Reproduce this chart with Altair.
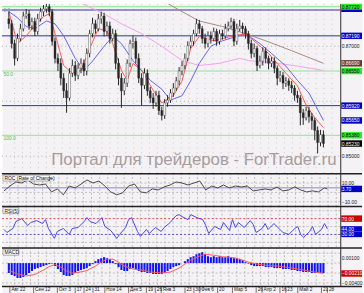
import altair as alt
import numpy as np
import pandas as pd

# ---------------- values ----------------
bar_index = list(range(110))

open_price = [
    0.8750, 0.8741, 0.8705, 0.8678, 0.8714, 0.8732, 0.8755, 0.8759, 0.8737, 0.8745,
    0.8727, 0.8750, 0.8763, 0.8768, 0.8772, 0.8763, 0.8709, 0.8678, 0.8669, 0.8642,
    0.8619, 0.8606, 0.8651, 0.8665, 0.8647, 0.8660, 0.8669, 0.8655, 0.8687, 0.8723,
    0.8741, 0.8732, 0.8750, 0.8755, 0.8727, 0.8737, 0.8714, 0.8723, 0.8669, 0.8642,
    0.8619, 0.8633, 0.8669, 0.8705, 0.8709, 0.8678, 0.8642, 0.8629, 0.8651, 0.8619,
    0.8606, 0.8597, 0.8611, 0.8583, 0.8574, 0.8597, 0.8602, 0.8615, 0.8624, 0.8637,
    0.8655, 0.8665, 0.8678, 0.8701, 0.8709, 0.8723, 0.8741, 0.8732, 0.8714, 0.8705,
    0.8719, 0.8714, 0.8727, 0.8709, 0.8723, 0.8719, 0.8732, 0.8737, 0.8745, 0.8709,
    0.8732, 0.8737, 0.8732, 0.8723, 0.8705, 0.8687, 0.8696, 0.8665, 0.8673, 0.8691,
    0.8678, 0.8669, 0.8673, 0.8660, 0.8642, 0.8647, 0.8633, 0.8637, 0.8629, 0.8624,
    0.8611, 0.8606, 0.8579, 0.8570, 0.8583, 0.8572, 0.8565, 0.8547, 0.8525, 0.8539,
]
high_price = [
    0.8763, 0.8748, 0.8712, 0.8723, 0.8741, 0.8763, 0.8768, 0.8766, 0.8752, 0.8752,
    0.8759, 0.8770, 0.8775, 0.8777, 0.8777, 0.8768, 0.8716, 0.8687, 0.8678, 0.8651,
    0.8633, 0.8660, 0.8676, 0.8673, 0.8669, 0.8678, 0.8676, 0.8696, 0.8730, 0.8752,
    0.8748, 0.8759, 0.8763, 0.8761, 0.8745, 0.8745, 0.8732, 0.8730, 0.8678, 0.8651,
    0.8642, 0.8676, 0.8712, 0.8719, 0.8716, 0.8687, 0.8651, 0.8660, 0.8658, 0.8626,
    0.8615, 0.8619, 0.8619, 0.8590, 0.8604, 0.8611, 0.8622, 0.8633, 0.8644, 0.8662,
    0.8673, 0.8687, 0.8709, 0.8718, 0.8730, 0.8750, 0.8748, 0.8737, 0.8723, 0.8727,
    0.8727, 0.8734, 0.8732, 0.8730, 0.8730, 0.8741, 0.8745, 0.8752, 0.8750, 0.8741,
    0.8748, 0.8743, 0.8737, 0.8728, 0.8712, 0.8705, 0.8701, 0.8683, 0.8698, 0.8698,
    0.8683, 0.8680, 0.8680, 0.8665, 0.8655, 0.8653, 0.8644, 0.8642, 0.8637, 0.8629,
    0.8619, 0.8611, 0.8586, 0.8590, 0.8590, 0.8579, 0.8570, 0.8554, 0.8548, 0.8547,
]
low_price = [
    0.8732, 0.8696, 0.8665, 0.8673, 0.8709, 0.8727, 0.8750, 0.8730, 0.8730, 0.8719,
    0.8721, 0.8745, 0.8755, 0.8761, 0.8755, 0.8701, 0.8669, 0.8655, 0.8629, 0.8606,
    0.8579, 0.8601, 0.8644, 0.8637, 0.8640, 0.8651, 0.8646, 0.8647, 0.8680, 0.8716,
    0.8723, 0.8727, 0.8741, 0.8718, 0.8719, 0.8705, 0.8709, 0.8658, 0.8629, 0.8588,
    0.8611, 0.8626, 0.8662, 0.8696, 0.8669, 0.8633, 0.8592, 0.8622, 0.8610, 0.8597,
    0.8586, 0.8590, 0.8575, 0.8565, 0.8568, 0.8590, 0.8597, 0.8608, 0.8619, 0.8629,
    0.8647, 0.8658, 0.8673, 0.8696, 0.8701, 0.8718, 0.8723, 0.8705, 0.8696, 0.8698,
    0.8705, 0.8709, 0.8701, 0.8703, 0.8712, 0.8714, 0.8727, 0.8732, 0.8700, 0.8703,
    0.8727, 0.8723, 0.8714, 0.8694, 0.8678, 0.8680, 0.8655, 0.8660, 0.8665, 0.8669,
    0.8658, 0.8662, 0.8651, 0.8629, 0.8635, 0.8622, 0.8626, 0.8619, 0.8615, 0.8601,
    0.8597, 0.8556, 0.8557, 0.8565, 0.8561, 0.8548, 0.8529, 0.8505, 0.8518, 0.8516,
]
close_price = [
    0.8741, 0.8705, 0.8678, 0.8714, 0.8732, 0.8755, 0.8759, 0.8737, 0.8745, 0.8727,
    0.8750, 0.8763, 0.8768, 0.8772, 0.8763, 0.8709, 0.8678, 0.8669, 0.8642, 0.8619,
    0.8606, 0.8651, 0.8665, 0.8647, 0.8660, 0.8669, 0.8655, 0.8687, 0.8723, 0.8741,
    0.8732, 0.8750, 0.8755, 0.8727, 0.8737, 0.8714, 0.8723, 0.8669, 0.8642, 0.8619,
    0.8633, 0.8669, 0.8705, 0.8709, 0.8678, 0.8642, 0.8629, 0.8651, 0.8619, 0.8606,
    0.8597, 0.8611, 0.8583, 0.8574, 0.8597, 0.8602, 0.8615, 0.8624, 0.8637, 0.8655,
    0.8665, 0.8678, 0.8701, 0.8709, 0.8723, 0.8741, 0.8732, 0.8714, 0.8705, 0.8719,
    0.8714, 0.8727, 0.8709, 0.8723, 0.8719, 0.8732, 0.8737, 0.8745, 0.8709, 0.8732,
    0.8737, 0.8732, 0.8723, 0.8705, 0.8687, 0.8696, 0.8665, 0.8673, 0.8691, 0.8678,
    0.8669, 0.8673, 0.8660, 0.8642, 0.8647, 0.8633, 0.8637, 0.8629, 0.8624, 0.8611,
    0.8606, 0.8579, 0.8570, 0.8583, 0.8572, 0.8565, 0.8547, 0.8525, 0.8539, 0.8523,
]

ma_red_idx = [0, 3, 6, 9, 12, 14, 16, 19, 22, 25, 28, 31, 34, 36, 39, 41, 43, 46, 50, 53,
              57, 60, 63, 66, 71, 74, 78, 82, 86, 90, 93, 96, 100, 103, 106, 109]
ma_red = [0.8763, 0.8705, 0.8719, 0.8737, 0.8754, 0.8759, 0.8723, 0.8665, 0.8651, 0.8656,
          0.8696, 0.8732, 0.8728, 0.8705, 0.8656, 0.8638, 0.8669, 0.8656, 0.8620, 0.8597,
          0.8610, 0.8637, 0.8696, 0.8718, 0.8710, 0.8714, 0.8719, 0.8723, 0.8705, 0.8687,
          0.8669, 0.8651, 0.8628, 0.8593, 0.8570, 0.8552]
ma_blue_idx = [0, 3, 6, 9, 13, 16, 19, 23, 26, 29, 33, 36, 39, 43, 46, 49, 53, 56, 60, 63,
               66, 70, 74, 79, 82, 87, 91, 96, 100, 104, 109]
ma_blue = [0.8763, 0.8752, 0.8736, 0.8732, 0.8746, 0.8741, 0.8719, 0.8678, 0.8656, 0.8673,
           0.8700, 0.8718, 0.8705, 0.8674, 0.8656, 0.8638, 0.8622, 0.8602, 0.8610, 0.8637,
           0.8669, 0.8700, 0.8710, 0.8718, 0.8723, 0.8705, 0.8687, 0.8664, 0.8638, 0.8615,
           0.8565]
ma_pink_idx = [24, 33, 39, 46, 53, 60, 66, 73, 80, 83, 93, 100, 109]
ma_pink = [0.8781, 0.8759, 0.8741, 0.8723, 0.8700, 0.8674, 0.8665, 0.8669, 0.8678, 0.8674,
           0.8669, 0.8664, 0.8656]
ma_brown_idx = [54, 60, 66, 74, 82, 89, 98, 109]
ma_brown = [0.8781, 0.8763, 0.8746, 0.8736, 0.8723, 0.8710, 0.8692, 0.8669]

green_level = [0.8772, 0.8655, 0.8538]
fib_text = ["0.0", "50.0", "100.0"]
blue_level = [0.8766, 0.8719, 0.8592]
price_grid = [0.87, 0.86, 0.85]

roc_idx = [0, 2, 4, 6, 8, 10, 12, 14, 16, 18, 20, 22, 24, 26, 28, 30, 32, 34, 36, 38,
           40, 42, 44, 46, 48, 50, 52, 54, 56, 58, 60, 62, 64, 66, 68, 70, 72, 74, 76, 78,
           80, 82, 84, 86, 88, 90, 92, 94, 96, 98, 100, 102, 104, 106, 108, 109]
roc = [1.6, 6.8, 11.1, 10.0, 13.2, 8.9, 7.9, 8.9, 0.5, 3.7,
       -2.6, 6.8, 4.7, 8.9, 13.2, 10.0, 12.1, 6.8, 0.5, -2.6,
       -0.5, 6.8, 8.9, 0.5, -0.5, 3.7, 2.6, 5.8, 7.9, 11.1,
       10.0, 7.9, 10.0, 12.1, 2.6, 6.8, 4.7, 7.9, 4.7, 6.8,
       5.8, 6.8, 1.6, 2.6, 3.7, 2.6, 5.8, 1.6, 2.6, 5.8,
       2.6, 0.5, 1.6, 0.5, 4.7, 3.7]
roc_level = 5.0
roc_marks = [10.0, -10.0]

rsi_idx = [0, 1, 3, 4, 6, 8, 9, 11, 13, 14, 15, 17, 18, 20, 22, 23, 25, 27, 28, 29,
           31, 33, 34, 36, 38, 39, 41, 42, 43, 45, 46, 48, 49, 51, 53, 54, 56, 58, 59, 60,
           62, 63, 65, 67, 68, 69, 71, 73, 74, 76, 77, 78, 79, 81, 83, 84, 85, 87, 88, 89,
           91, 93, 94, 96, 98, 99, 100, 101, 103, 104, 105, 107, 108, 109]
rsi = [42.5, 35, 45, 62.5, 70, 52.5, 60, 65, 57.5, 67.5,
       45, 20, 37.5, 45, 30, 45, 47.5, 62.5, 72.5, 62.5,
       57.5, 72.5, 50, 40, 20, 30, 47.5, 67.5, 72.5, 37.5,
       25, 42.5, 32.5, 47.5, 37.5, 47.5, 60, 77.5, 80, 75,
       67.5, 80, 72.5, 67.5, 52.5, 32.5, 50, 42.5, 60, 40,
       67.5, 47.5, 60, 47.5, 65, 55, 35, 45, 57.5, 42.5,
       57.5, 42.5, 35, 30, 45, 50, 30, 22.5, 37.5, 50,
       30, 42.5, 57.5, 44.0]
rsi_upper, rsi_lower = 70.0, 30.0

macd_hist = [
    -0.0020, -0.0024, -0.0026, -0.0030, -0.0030, -0.0028, -0.0024, -0.0020, -0.0016, -0.0012,
    -0.0010, -0.0008, -0.0006, -0.0004, -0.0002, -0.0001, -0.0006, -0.0012, -0.0018, -0.0024,
    -0.0026, -0.0026, -0.0024, -0.0020, -0.0016, -0.0014, -0.0012, -0.0010, -0.0006, -0.0002,
    0.0004, 0.0008, 0.0010, 0.0012, 0.0010, 0.0008, 0.0004, -0.0002, -0.0008, -0.0014,
    -0.0016, -0.0016, -0.0012, -0.0010, -0.0012, -0.0016, -0.0018, -0.0018, -0.0020, -0.0020,
    -0.0022, -0.0022, -0.0022, -0.0022, -0.0020, -0.0016, -0.0012, -0.0008, -0.0006, -0.0004,
    0.0000, 0.0004, 0.0008, 0.0012, 0.0014, 0.0018, 0.0020, 0.0022, 0.0018, 0.0014,
    0.0012, 0.0014, 0.0012, 0.0014, 0.0012, 0.0012, 0.0014, 0.0012, 0.0010, 0.0010,
    0.0008, 0.0006, 0.0002, -0.0001, -0.0004, -0.0006, -0.0006, -0.0006, -0.0006, -0.0008,
    -0.0008, -0.0008, -0.0010, -0.0010, -0.0010, -0.0012, -0.0012, -0.0012, -0.0014, -0.0014,
    -0.0016, -0.0016, -0.0018, -0.0018, -0.0018, -0.0020, -0.0020, -0.0020, -0.0020, -0.0020,
]
signal_idx = [0, 3, 6, 9, 12, 14, 16, 18, 20, 22, 24, 27, 30, 32, 34, 36, 38, 40, 43, 46,
              49, 53, 56, 59, 61, 63, 66, 68, 71, 74, 78, 80, 83, 86, 90, 93, 97, 100, 103, 106,
              109]
signal = [-0.0015, -0.0022, -0.0026, -0.0023, -0.0014, -0.0007, -0.0003, -0.0008, -0.0016, -0.0020,
          -0.0019, -0.0015, -0.0006, 0.0002, 0.0008, 0.0008, 0.0002, -0.0006, -0.0012, -0.0014,
          -0.0018, -0.0020, -0.0018, -0.0010, -0.0002, 0.0006, 0.0014, 0.0018, 0.0016, 0.0013,
          0.0011, 0.0008, 0.0002, -0.0002, -0.0005, -0.0006, -0.0009, -0.0012, -0.0015, -0.0018,
          -0.0021]
macd_marks = [0.0010, -0.0040]

date_tick_index = [2, 10, 18, 24, 27, 30, 34, 42, 48, 51, 53, 61, 64, 66, 72, 77, 85, 87, 93, 95,
                   99, 107, 109]
date_tick_label = ["Авг 22", "Сен 12", "Окт 3", "17", "24", "31", "Ноя 14", "Дек 5", "19", "26",
                   "Янв 3", "23", "30", "Фев 6", "20", "Мар 5", "26", "Апр 2", "16", "23",
                   "Май 2", "21", "28"]

watermark = "Портал для трейдеров - ForTrader.ru"

# ---------------- layout / style ----------------
FONT = "Liberation Sans"
BG = "#f4f2f5"
W = 364
PR = 342
H_MAIN, H_ROC, H_RSI, H_MACD, H_AX = 171, 33, 42, 39, 8

xscale = alt.Scale(domain=[-2 / 3, W / 3 - 2 / 3], nice=False, zero=False)


def X(f):
    return alt.X(f"{f}:Q", scale=xscale, axis=None)


one = pd.DataFrame({"k": [0]})

KIND = {
    "plain": ("transparent", "#1a1a1a", True),
    "green": ("#2ee82e", "#000000", True),
    "blue": ("#0000c8", "#ffffff", True),
    "bluebar": ("#0000c8", "#ffffff", False),
    "brown": ("#6e3a30", "#ffffff", True),
    "black": ("#000000", "#ffffff", True),
    "red": ("#cc0000", "#ffffff", True),
}


def right_axis(h, values, kinds, yscale, fmt, thick=None):
    df = pd.DataFrame({"v": values, "kind": kinds})
    df["bg"] = [KIND[k][0] for k in kinds]
    df["fg"] = [KIND[k][1] for k in kinds]
    df["show"] = [KIND[k][2] for k in kinds]
    df["th"] = thick if thick is not None else [6.5] * len(kinds)
    y = alt.Y("v:Q", scale=yscale, axis=None)
    strip = alt.Chart(one).mark_rect(color=BG).encode(
        x=alt.value(PR), x2=alt.value(W), y=alt.value(0), y2=alt.value(h))
    edge = alt.Chart(one).mark_rule(color="#2b2b2b", strokeWidth=1).encode(
        x=alt.value(PR + 0.5), y=alt.value(0), y2=alt.value(h))
    layers = [strip, edge]
    for _, r in df[df.kind != "plain"].iterrows():
        layers.append(alt.Chart(pd.DataFrame([r])).mark_tick(
            orient="horizontal", size=21, thickness=float(r["th"]), opacity=1).encode(
            x=alt.value(353.5), y=y, color=alt.Color("bg:N", scale=None)))
    texts = alt.Chart(df[df.show]).mark_text(
        align="left", baseline="middle", fontSize=5, font=FONT).encode(
        x=alt.value(343.5), y=y, text=alt.Text("v:Q", format=fmt),
        color=alt.Color("fg:N", scale=None))
    layers.append(texts)
    return layers


def top_sep():
    return alt.Chart(one).mark_rule(color="#222222", strokeWidth=1.5).encode(
        x=alt.value(0), x2=alt.value(W), y=alt.value(0.75))


def panel_label(text, w):
    box = alt.Chart(one).mark_rect(fill="#f8f8f8", stroke="#777777", strokeWidth=0.6).encode(
        x=alt.value(1), x2=alt.value(w), y=alt.value(2), y2=alt.value(8))
    t = alt.Chart(one).mark_text(text=text, align="left", baseline="middle", fontSize=5,
                                 font=FONT, color="#111111").encode(
        x=alt.value(2.5), y=alt.value(5.2))
    return [box, t]


week_x = (np.arange(8, PR, 8.25) - 2) / 3  # weekly vertical grid (styling)
gdf = pd.DataFrame({"g": week_x})


def vgrid(color, dash, op):
    return alt.Chart(gdf).mark_rule(color=color, strokeWidth=1, strokeDash=dash, opacity=op).encode(
        x=X("g"), y=alt.value(0), y2=alt.value(300))


def hlines(values, yscale, color, dash=None, width=1.0, op=1.0):
    kw = dict(color=color, strokeWidth=width, opacity=op)
    if dash:
        kw["strokeDash"] = dash
    return alt.Chart(pd.DataFrame({"p": values})).mark_rule(**kw).encode(
        x=alt.value(0), x2=alt.value(PR), y=alt.Y("p:Q", scale=yscale, axis=None))


def line(idx, vals, yscale, color, width=1.0):
    df = pd.DataFrame({"i": idx, "v": vals})
    return alt.Chart(df).mark_line(color=color, strokeWidth=width, clip=True).encode(
        x=X("i"), y=alt.Y("v:Q", scale=yscale, axis=None))


# ---------------- main price panel ----------------
ys_main = alt.Scale(domain=[0.8777 - 0.00018 * H_MAIN, 0.8777], nice=False, zero=False)
cdf = pd.DataFrame({"i": bar_index, "o": open_price, "h": high_price,
                    "l": low_price, "c": close_price})

wick = alt.Chart(cdf).mark_rule(color="#262626", strokeWidth=1).encode(
    x=X("i"), y=alt.Y("l:Q", scale=ys_main, axis=None), y2="h:Q")
body = alt.Chart(cdf).mark_bar(size=2, stroke="#262626", strokeWidth=0.4).encode(
    x=X("i"), y=alt.Y("o:Q", scale=ys_main, axis=None), y2="c:Q",
    fill=alt.condition(alt.datum.c >= alt.datum.o, alt.value("#ffffff"), alt.value("#262626")))

fib = alt.Chart(pd.DataFrame({"p": green_level, "t": fib_text})).mark_text(
    align="left", baseline="top", fontSize=5, font=FONT, color="#55bb55", dy=1).encode(
    x=alt.value(1.5), y=alt.Y("p:Q", scale=ys_main, axis=None), text="t:N")

wm = alt.Chart(one).mark_text(text=watermark, fontSize=17, font=FONT, color="#a89c9c",
                              align="center", baseline="alphabetic").encode(
    x=alt.value(194), y=alt.value(163))

main_vals = [blue_level[0], green_level[0], blue_level[1], price_grid[0], ma_brown[-1],
             green_level[1], blue_level[2], ma_blue[-1], green_level[2], close_price[-1],
             price_grid[2]]
main_kinds = ["bluebar", "green", "blue", "plain", "brown", "green", "blue", "blue", "green",
              "black", "plain"]
main_thick = [4, 6, 6.5, 6.5, 6.5, 6.5, 6.5, 6.5, 6.5, 6.5, 6.5]

main = alt.layer(
    vgrid("#9a9a9a", [1, 4], 0.5),
    hlines(price_grid, ys_main, "#9a9a9a", [1, 3], 1, 0.8),
    hlines(green_level, ys_main, "#93e393"),
    hlines(blue_level, ys_main, "#3030a0"),
    fib,
    line(ma_brown_idx, ma_brown, ys_main, "#a88a80"),
    line(ma_pink_idx, ma_pink, ys_main, "#f2a2ee"),
    line(ma_blue_idx, ma_blue, ys_main, "#6464ee"),
    line(ma_red_idx, ma_red, ys_main, "#ff5a5a"),
    wick, body,
    wm,
    *right_axis(H_MAIN, main_vals, main_kinds, ys_main, ".5f", main_thick),
).properties(width=W, height=H_MAIN)

# ---------------- ROC panel ----------------
ys_roc = alt.Scale(domain=[-14.21, 20.53], nice=False, zero=False)
roc_panel = alt.layer(
    vgrid("#b8b8b8", [2, 2], 0.9),
    hlines([10, 0, -10], ys_roc, "#b8b8b8", [2, 2], 1, 0.9),
    hlines([roc_level], ys_roc, "#b2a6ea", None, 1.5),
    line(roc_idx, roc, ys_roc, "#4a4a4a"),
    *panel_label("ROC (Rate of Change)", 48),
    *right_axis(H_ROC, roc_marks + [roc[-1]], ["plain", "plain", "blue"], ys_roc, ".2f"),
    top_sep(),
).properties(width=W, height=H_ROC)

# ---------------- RSI panel ----------------
ys_rsi = alt.Scale(domain=[-2.5, 102.5], nice=False, zero=False)
rsi_panel = alt.layer(
    vgrid("#b8b8b8", [2, 2], 0.9),
    hlines([90, 50, 10], ys_rsi, "#b8b8b8", [2, 2], 1, 0.9),
    hlines([rsi_upper], ys_rsi, "#e05050", [2, 2]),
    hlines([rsi_lower], ys_rsi, "#5050c8", [2, 2]),
    line(rsi_idx, rsi, ys_rsi, "#4848e8"),
    *panel_label("RSI(5)", 17),
    *right_axis(H_RSI, [rsi_upper, rsi[-1], rsi_lower], ["red", "blue", "blue"], ys_rsi, ".2f",
                [6.5, 5.5, 5.5]),
    top_sep(),
).properties(width=W, height=H_RSI)

# ---------------- MACD panel ----------------
ys_macd = alt.Scale(domain=[-0.0046, 0.0032], nice=False, zero=False)
hdf = pd.DataFrame({"i": bar_index, "h": macd_hist})
hist = alt.Chart(hdf).mark_bar(size=2.1, color="#1414f0").encode(
    x=X("i"), y=alt.Y("h:Q", scale=ys_macd, axis=None), y2=alt.datum(0))
macd_panel = alt.layer(
    vgrid("#b8b8b8", [2, 2], 0.9),
    hlines([0.002, 0.0, -0.002, -0.004], ys_macd, "#b8b8b8", [2, 2], 1, 0.9),
    hist,
    line(signal_idx, signal, ys_macd, "#ff5a5a"),
    *panel_label("MACD", 17),
    *right_axis(H_MACD, [macd_marks[0], signal[-1], macd_marks[1]], ["plain", "red", "plain"],
                ys_macd, ".5f"),
    top_sep(),
).properties(width=W, height=H_MACD)

# ---------------- date axis strip ----------------
tdf = pd.DataFrame({"i": date_tick_index, "t": date_tick_label})
tick_rules = alt.Chart(tdf).mark_rule(color="#555555", strokeWidth=0.8).encode(
    x=X("i"), y=alt.value(1.5), y2=alt.value(8))
tick_text = alt.Chart(tdf).mark_text(align="left", baseline="middle", fontSize=4.8, font=FONT,
                                     color="#222222", dx=1.5).encode(
    x=X("i"), y=alt.value(4.4), text="t:N")
axis_panel = alt.layer(
    tick_rules, tick_text, top_sep(),
).properties(width=W, height=H_AX)

chart = alt.vconcat(main, roc_panel, rsi_panel, macd_panel, axis_panel,
                    spacing=0, bounds="flush", padding=0).configure_view(
    stroke="transparent", fill=BG)

chart.save("out.html", embed_options={"renderer": "svg", "actions": False})
